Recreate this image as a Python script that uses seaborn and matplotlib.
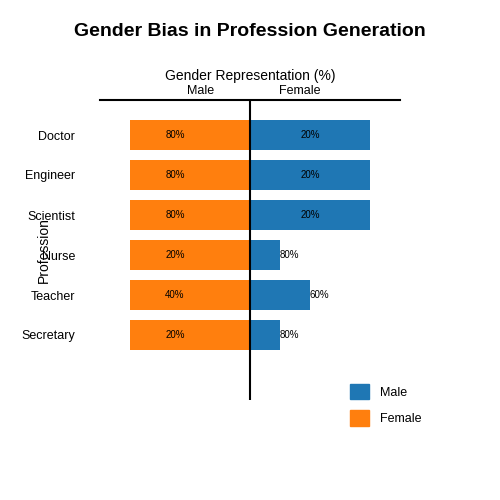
import matplotlib
matplotlib.use("Agg")
import matplotlib.pyplot as plt
import seaborn as sns
import pandas as pd
from matplotlib.patches import Patch

professions = ["Doctor", "Engineer", "Scientist", "Nurse", "Teacher", "Secretary"]
male_bar = [80, 80, 80, 20, 40, 20]          # blue bar lengths (right side)
female_bar = [-80, -80, -80, -80, -80, -80]  # orange bar lengths (left side)
left_labels = ["80%", "80%", "80%", "20%", "40%", "20%"]
right_labels = ["20%", "20%", "20%", "80%", "60%", "80%"]

sns.set_style("white")
plt.rcParams['font.family'] = ['Liberation Sans', 'DejaVu Sans']
plt.rcParams['text.color'] = 'black'
plt.rcParams['axes.labelcolor'] = 'black'
plt.rcParams['xtick.color'] = 'black'
plt.rcParams['ytick.color'] = 'black'

df = pd.DataFrame({"Profession": professions, "m": male_bar, "f": female_bar})
fig = plt.figure(figsize=(5, 5), dpi=100)
ax = fig.add_axes([0.2, 0.2, 0.6, 0.6])
sns.barplot(data=df, x="f", y="Profession", color="#ff7f0e", orient="h", width=0.75, ax=ax, saturation=1, linewidth=0)
sns.barplot(data=df, x="m", y="Profession", color="#1f77b4", orient="h", width=0.75, ax=ax, saturation=1, linewidth=0)
ax.set_xlim(-100, 100)
ax.set_ylim(6.625, -0.875)
ax.axvline(0, color="black", lw=1.5)
for s in ["left", "right", "bottom"]:
    ax.spines[s].set_visible(False)
ax.spines["top"].set_visible(True)
ax.spines["top"].set_linewidth(1.5)
ax.spines["top"].set_color("black")
ax.xaxis.set_ticks_position("top")
ax.xaxis.set_label_position("top")
ax.set_xticks([-33, 33])
ax.set_xticklabels(["Male", "Female"], fontsize=9)
ax.tick_params(axis="x", length=0, pad=2)
ax.tick_params(axis="y", length=0, pad=18, labelsize=9)
ax.set_xlabel("Gender Representation (%)", fontsize=10, labelpad=4)
ax.set_ylabel("Profession", fontsize=10)
ax.yaxis.set_label_coords(-0.165, 0.5)
for i in range(len(professions)):
    ax.text(female_bar[i] / 2 - 10, i, left_labels[i], ha="center", va="center", fontsize=7)
    if male_bar[i] >= 60:
        ax.text(male_bar[i] / 2, i, right_labels[i], ha="center", va="center", fontsize=7)
    else:
        ax.text(male_bar[i], i, right_labels[i], ha="left", va="center", fontsize=7)
fig.suptitle("Gender Bias in Profession Generation", fontsize=14, fontweight="bold", y=0.955)
handles = [Patch(color="#1f77b4", label="Male"), Patch(color="#ff7f0e", label="Female")]
fig.legend(handles=handles, loc="upper left", bbox_to_anchor=(0.678, 0.255), frameon=False,
           fontsize=9, handlelength=1.5, handleheight=1.5, labelspacing=0.9, handletextpad=0.9)
fig.savefig("out.png", dpi=100)
